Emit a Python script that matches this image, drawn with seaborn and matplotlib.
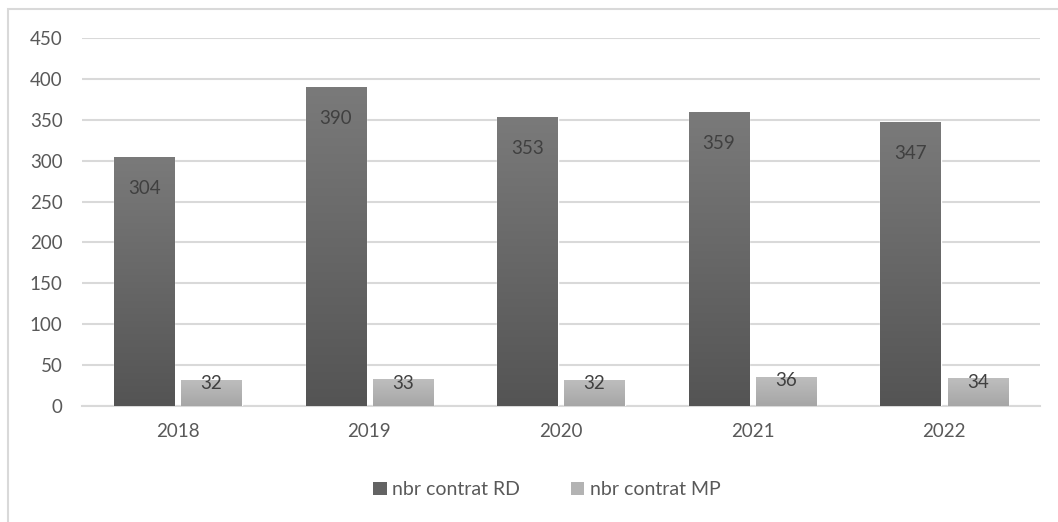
"""
Bar chart of contract counts (RD vs MP) per year
"""

import matplotlib

matplotlib.use("Agg")
import matplotlib.pyplot as plt
import numpy as np
import pandas as pd
import seaborn as sns
from matplotlib.colors import LinearSegmentedColormap
from matplotlib.patches import Patch, Rectangle

years = ["2018", "2019", "2020", "2021", "2022"]
rd_counts = [304, 390, 353, 359, 347]
mp_counts = [32, 33, 32, 36, 34]
series_names = ["nbr contrat RD", "nbr contrat MP"]

df = pd.DataFrame(
    {
        "year": years * 2,
        "count": rd_counts + mp_counts,
        "series": [series_names[0]] * len(years) + [series_names[1]] * len(years),
    }
)

# gradient (top, bottom) for each series
gradients = {
    series_names[0]: ("#7a7a7a", "#545454"),
    series_names[1]: ("#bebebe", "#a6a6a6"),
}
solid = {series_names[0]: "#636363", series_names[1]: "#b3b3b3"}

sns.set_style("white")
plt.rcParams["font.family"] = ["Lato", "DejaVu Sans"]

fig = plt.figure(figsize=(10.58, 5.22), dpi=100)
ax = fig.add_axes([82 / 1058, 116 / 522, 958 / 1058, 368 / 522])

sns.barplot(
    data=df,
    x="year",
    y="count",
    hue="series",
    palette=solid,
    width=0.7,
    gap=0.1,
    ax=ax,
    legend=False,
    zorder=3,
)

# replace flat fills with a vertical gradient clipped to each bar
for container, name in zip(ax.containers, series_names):
    top, bottom = gradients[name]
    cmap = LinearSegmentedColormap.from_list(name, [bottom, top])
    grad = np.linspace(0, 1, 256).reshape(-1, 1)
    for bar in container:
        x, y = bar.get_x(), bar.get_y()
        w, h = bar.get_width(), bar.get_height()
        img = ax.imshow(
            grad,
            extent=[x, x + w, y, y + h],
            cmap=cmap,
            aspect="auto",
            origin="lower",
            zorder=3,
        )
        img.set_clip_path(bar)

ax.set_xlim(-0.5, len(years) - 0.5)
ax.set_ylim(0, 450)
ax.set_yticks(range(0, 451, 50))

ax.bar_label(ax.containers[0], padding=-28.5, color="#404040", fontsize=13.5, zorder=4)
ax.bar_label(ax.containers[1], padding=-9, color="#404040", fontsize=13.5, zorder=4)

ax.grid(axis="y", color="#d9d9d9", linewidth=1.5, zorder=0)
ax.set_axisbelow(True)
for side in ["top", "right", "left"]:
    ax.spines[side].set_visible(False)
ax.spines["bottom"].set_color("#d9d9d9")
ax.spines["bottom"].set_linewidth(1.5)
ax.tick_params(axis="both", length=0, labelsize=13.5, labelcolor="#595959")
ax.tick_params(axis="y", pad=14)
ax.tick_params(axis="x", pad=12)
ax.set_xlabel("")
ax.set_ylabel("")

handles = [Patch(facecolor=solid[n], edgecolor="none", label=n) for n in series_names]
fig.legend(
    handles=handles,
    loc="center",
    bbox_to_anchor=(0.517, 0.062),
    ncol=2,
    frameon=False,
    fontsize=14,
    labelcolor="#595959",
    handlelength=0.7,
    handleheight=0.7,
    handletextpad=0.3,
    columnspacing=2.6,
)

# chart border
fig.add_artist(
    Rectangle(
        (8 / 1058, -0.01),
        1.02,
        1 - 9 / 522 + 0.01,
        transform=fig.transFigure,
        fill=False,
        edgecolor="#d9d9d9",
        linewidth=1.5,
    )
)

fig.savefig("out.png", dpi=100)
